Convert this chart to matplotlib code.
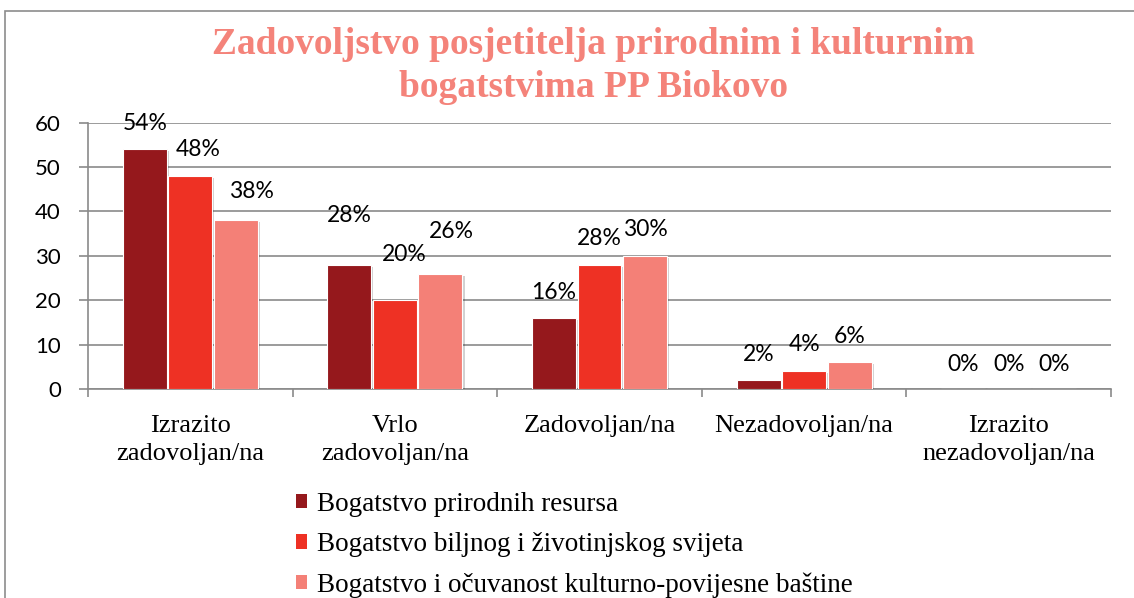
import matplotlib
matplotlib.use("Agg")
import matplotlib.pyplot as plt
import matplotlib.patheffects as pe
from matplotlib.patches import Rectangle
import numpy as np

# ---- data ----
categories = ["Izrazito\nzadovoljan/na", "Vrlo\nzadovoljan/na", "Zadovoljan/na",
              "Nezadovoljan/na", "Izrazito\nnezadovoljan/na"]
series_names = ["Bogatstvo prirodnih resursa",
                "Bogatstvo biljnog i životinjskog svijeta",
                "Bogatstvo i očuvanost kulturno-povijesne baštine"]
prirodni = [54, 28, 16, 2, 0]
biljni = [48, 20, 28, 4, 0]
kulturni = [38, 26, 30, 6, 0]
title = "Zadovoljstvo posjetitelja prirodnim i kulturnim\nbogatstvima PP Biokovo"
yticks = [0, 10, 20, 30, 40, 50, 60]

# ---- styling ----
colors = ["#95181C", "#EE3124", "#F48077"]
title_color = "#F4837A"
grid_color = "#8A8A8A"
# label offsets (pixels, dx, dy of baseline above bar top) as in the original
label_offsets = [
    [(0, 19), (0, 43), (0, 19), (0, 19), (0, 18)],
    [(8, 20), (9, 39), (0, 20), (0, 20), (0, 18)],
    [(16, 22), (11, 36), (0, 20), (0, 19), (0, 18)],
]

W, H = 1134, 598
fig = plt.figure(figsize=(W / 100, H / 100), dpi=100)
fig.patch.set_facecolor("white")

ax = fig.add_axes([88 / W, 1 - 389 / H, (1111 - 88) / W, (389 - 122.7) / H])

values = [prirodni, biljni, kulturni]
x = np.arange(len(categories))
step = 0.2225
bw = 0.215
label_font = "Lato"
for i, (vals, c, name) in enumerate(zip(values, colors, series_names)):
    xs = x + (i - 1) * step
    bars = ax.bar(xs, vals, width=bw, color=c, edgecolor="white", linewidth=0.8,
                  label=name, zorder=3)
    for b in bars:
        b.set_path_effects([pe.SimplePatchShadow(offset=(1.5, -1.5), shadow_rgbFace="#000000", alpha=0.18),
                            pe.Normal()])
    for xi, v, (dx, dy) in zip(xs, vals, label_offsets[i]):
        ax.annotate(f"{v}%", xy=(xi, v), xytext=(dx, dy), textcoords="offset pixels",
                    ha="center", va="baseline", fontsize=16.5, family=label_font,
                    color="black", zorder=5, annotation_clip=False)

ax.set_xlim(-0.5, len(categories) - 0.5)
ax.set_ylim(0, 60)
ax.set_yticks(yticks)
ax.set_yticklabels([str(t) for t in yticks], fontsize=16, family=label_font)
ax.set_xticks(x)
ax.set_xticklabels(categories, fontsize=19, family="Liberation Serif", linespacing=1.35)
ax.set_xticks(np.arange(-0.5, len(categories), 1.0), minor=True)
ax.tick_params(axis="x", which="major", length=0, pad=18.4)
ax.tick_params(axis="x", which="minor", length=5.5, width=1.2, color=grid_color, direction="out")
ax.tick_params(axis="y", length=6.5, width=1.2, color=grid_color, pad=13, direction="out")

ax.grid(axis="y", color=grid_color, linewidth=1.2, zorder=0)
ax.set_axisbelow(True)
for s in ["top", "right"]:
    ax.spines[s].set_visible(False)
for s in ["left", "bottom"]:
    ax.spines[s].set_color(grid_color)
    ax.spines[s].set_linewidth(1.2)

# title
fig.text(593 / W, 1 - 26.5 / H, title, ha="center", va="top", fontsize=27,
         family="Liberation Serif", weight="bold", color=title_color, linespacing=1.3)

# legend
leg = fig.legend(loc="upper left", bbox_to_anchor=(296 / W, 1 - 492 / H),
                 frameon=False, prop={"family": "Liberation Serif", "size": 19.5},
                 handlelength=0.42, handleheight=0.42, handletextpad=0.35,
                 labelspacing=0.56, borderpad=0, borderaxespad=0)
for h in leg.legend_handles:
    h.set_path_effects([])
    h.set_edgecolor("none")

# outer chart border (partially out of frame)
fig.patches.append(Rectangle((5 / W, -0.5), 2.0, 1.5 - 10.5 / H, transform=fig.transFigure,
                             fill=False, edgecolor="#8C8C8C", linewidth=1.2))

fig.savefig("out.png", dpi=100)
